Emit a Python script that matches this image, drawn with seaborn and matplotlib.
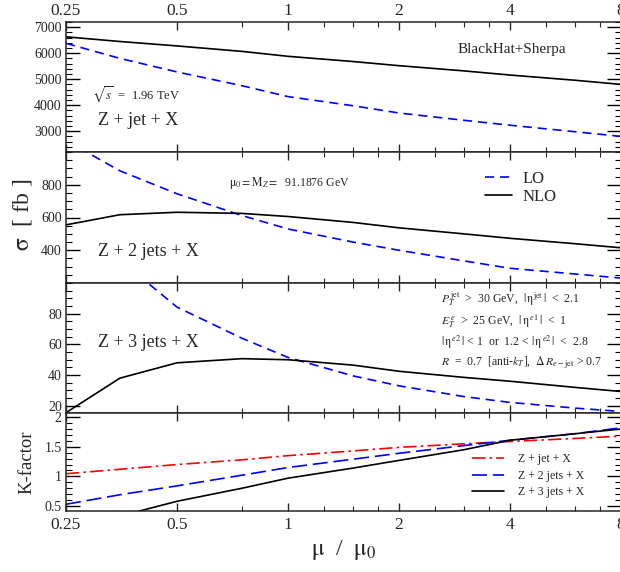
import numpy as np
import pandas as pd
import matplotlib
matplotlib.use("Agg")
import matplotlib.pyplot as plt
import seaborn as sns
from matplotlib.ticker import FixedLocator, NullFormatter, MultipleLocator, FuncFormatter
from matplotlib.lines import Line2D

# scale ratio mu/mu0
mu = [0.25, 0.35, 0.5, 0.75, 1, 1.5, 2, 3, 4, 6, 8]

# Z + jet + X [fb]
zj_lo = [6380, 5800, 5280, 4750, 4330, 3980, 3700, 3420, 3230, 2980, 2800]
zj_nlo = [6630, 6450, 6280, 6070, 5880, 5680, 5520, 5320, 5160, 4960, 4800]
# Z + 2 jets + X [fb]
z2j_lo = [1070, 885, 745, 612, 530, 450, 400, 335, 290, 255, 230]
z2j_nlo = [555, 617, 632, 625, 606, 570, 537, 500, 473, 440, 415]
# Z + 3 jets + X [fb]
z3j_lo = [155, 115, 84.3, 64, 51.5, 39.5, 33, 26, 22.2, 18.5, 16.3]
z3j_nlo = [15.5, 38, 48, 50.7, 50, 46.5, 42.5, 38.5, 36, 32, 29.3]
# K-factors
k_zj = [1.045, 1.12, 1.20, 1.28, 1.35, 1.43, 1.49, 1.55, 1.59, 1.64, 1.68]
k_z2j = [0.53, 0.69, 0.84, 1.02, 1.15, 1.29, 1.39, 1.52, 1.61, 1.72, 1.82]
k_z3j = [0.10, 0.33, 0.58, 0.80, 0.97, 1.14, 1.27, 1.45, 1.61, 1.72, 1.80]

xticks = [0.25, 0.5, 1, 2, 4, 8]
xticklabels = ["0.25", "0.5", "1", "2", "4", "8"]
xminor = [0.75, 1.25, 1.5, 1.75, 2.5, 3, 3.5, 5, 6, 7]

sns.set_style("ticks")
plt.rcParams['font.family'] = ['Liberation Serif', 'DejaVu Serif']
plt.rcParams['mathtext.fontset'] = 'stix'

W, H = 620, 572
fig, axes = plt.subplots(4, 1, figsize=(6.2, 5.72), dpi=100, sharex=True,
                         gridspec_kw=dict(height_ratios=[130, 131, 130, 98], hspace=0))
fig.subplots_adjust(left=66 / W, right=621 / W, top=1 - 22 / H, bottom=1 - 511 / H)

LO_DASH = (0, (5.5, 3.5))
RED_DASH = (0, (8, 2.5, 1.5, 2.5))
BLUE_DASH = (0, (9, 3.5))
lw = 1.2

sns.lineplot(x=mu, y=zj_lo, ax=axes[0], color="blue", linestyle=LO_DASH, lw=lw)
sns.lineplot(x=mu, y=zj_nlo, ax=axes[0], color="black", lw=lw)
sns.lineplot(x=mu, y=z2j_lo, ax=axes[1], color="blue", linestyle=LO_DASH, lw=lw)
sns.lineplot(x=mu, y=z2j_nlo, ax=axes[1], color="black", lw=lw)
sns.lineplot(x=mu, y=z3j_lo, ax=axes[2], color="blue", linestyle=LO_DASH, lw=lw)
sns.lineplot(x=mu, y=z3j_nlo, ax=axes[2], color="black", lw=lw)

sns.lineplot(x=mu, y=k_zj, ax=axes[3], color="red", linestyle=RED_DASH, lw=lw)
sns.lineplot(x=mu, y=k_z2j, ax=axes[3], color="blue", linestyle=BLUE_DASH, lw=lw)
sns.lineplot(x=mu, y=k_z3j, ax=axes[3], color="black", lw=lw)

ylims = [(2200, 7200), (200, 1000), (15.3, 100), (0.416, 2.07)]
ymaj = [1000, 200, 20, 0.5]
ymin = [200, 50, 5, 0.1]
for ax, yl, mj, mn in zip(axes, ylims, ymaj, ymin):
    ax.set_xscale("log")
    ax.set_xlim(0.25, 8)
    ax.set_ylim(*yl)
    ax.yaxis.set_major_locator(MultipleLocator(mj))
    ax.yaxis.set_minor_locator(MultipleLocator(mn))
    ax.yaxis.set_major_formatter(FuncFormatter(lambda v, p: f"{v:g}"))
    ax.xaxis.set_major_locator(FixedLocator(xticks))
    ax.xaxis.set_minor_locator(FixedLocator(xminor))
    ax.xaxis.set_minor_formatter(NullFormatter())
    ax.set_xticks(xticks, xticklabels)
    ax.tick_params(axis="y", which="both", direction="in", left=True, right=True,
                   labelsize=10, pad=3, color="black")
    ax.tick_params(axis="y", which="major", length=10, width=1)
    ax.tick_params(axis="y", which="minor", length=4.5, width=0.8)
    ax.tick_params(axis="x", which="both", direction="in", top=True, bottom=True,
                   labelbottom=False, labeltop=False, labelsize=12.5)
    ax.tick_params(axis="x", which="major", length=6, width=1)
    ax.tick_params(axis="x", which="minor", length=3.5, width=0.8)
    for s in ax.spines.values():
        s.set_linewidth(1.1)
    ax.set_xlabel("")
    ax.set_ylabel("")

axes[0].tick_params(axis="x", labeltop=True, pad=2)
axes[3].tick_params(axis="x", labelbottom=True, pad=4)
axes[1].set_yticks([400, 600, 800])
axes[2].set_yticks([20, 40, 60, 80])
axes[3].set_yticks([0.5, 1, 1.5, 2])
axes[1].yaxis.set_minor_locator(MultipleLocator(50))
axes[2].yaxis.set_minor_locator(MultipleLocator(5))
axes[3].yaxis.set_minor_locator(MultipleLocator(0.1))

# panel texts
axes[0].text(0.705, 0.785, "BlackHat+Sherpa", transform=axes[0].transAxes, fontsize=11, va="center")
axes[0].text(0.047, 0.44, r"$\sqrt{s}$  =  1.96 TeV", transform=axes[0].transAxes, fontsize=9, va="center")
axes[0].text(0.058, 0.24, "Z + jet + X", transform=axes[0].transAxes, fontsize=13, va="center")

axes[1].text(0.294, 0.763, r"$\mathrm{\mu}_0 = \mathrm{M}_Z =$  91.1876 GeV", transform=axes[1].transAxes,
             fontsize=8.5, va="center")
axes[1].text(0.058, 0.237, "Z + 2 jets + X", transform=axes[1].transAxes, fontsize=13, va="center")
h = [Line2D([], [], color="blue", linestyle=LO_DASH, lw=lw),
     Line2D([], [], color="black", lw=lw)]
axes[1].legend(h, ["LO", "NLO"], loc="center left", bbox_to_anchor=((485 - 66) / 555, 0.725),
               frameon=False, fontsize=12, handlelength=1.6, handletextpad=0.65,
               labelspacing=0.1, borderpad=0, borderaxespad=0)

axes[2].text(0.058, 0.54, "Z + 3 jets + X", transform=axes[2].transAxes, fontsize=13, va="center")
cuts = [r"$P_T^{\,\rm jet}$  >  30 GeV,  $|\,\mathrm{\eta}^{\rm jet}\,|$  <  2.1",
        r"$E_T^{\,e}$  >  25 GeV,  $|\,\mathrm{\eta}^{\,e1}\,|$  <  1",
        r"$|\,\mathrm{\eta}^{\,e2}\,|$ < 1  or  1.2 < $|\,\mathrm{\eta}^{\,e2}\,|$  <  2.8",
        r"$R$  =  0.7  [anti-$k_T$],  $\Delta\,R_{e{\rm -jet}}$ > 0.7"]
for t, fy in zip(cuts, [0.877, 0.708, 0.546, 0.385]):
    axes[2].text(0.676, fy, t, transform=axes[2].transAxes, fontsize=8.5, va="center")

hk = [Line2D([], [], color="red", linestyle=RED_DASH, lw=lw),
      Line2D([], [], color="blue", linestyle=BLUE_DASH, lw=lw),
      Line2D([], [], color="black", lw=lw)]
axes[3].legend(hk, ["Z + jet + X", "Z + 2 jets + X", "Z + 3 jets + X"], loc="center left",
               bbox_to_anchor=((472 - 66) / 555, 0.36), frameon=False, fontsize=8.5,
               handlelength=2.7, handletextpad=1.2, labelspacing=0.4, borderpad=0,
               borderaxespad=0)

fig.text(22 / W, 1 - 215 / H, r"$\mathrm{\sigma}$  [ fb ]", rotation=90, fontsize=17,
         ha="center", va="center")
fig.text(27 / W, 1 - 462 / H, "K-factor", rotation=90, fontsize=13.5, ha="center", va="center")
fig.text(344 / W, 1 - 550 / H, r"$\mathrm{\mu}$  /  $\mathrm{\mu}_0$", fontsize=17,
         ha="center", va="center")

fig.savefig("out.png", dpi=100)
